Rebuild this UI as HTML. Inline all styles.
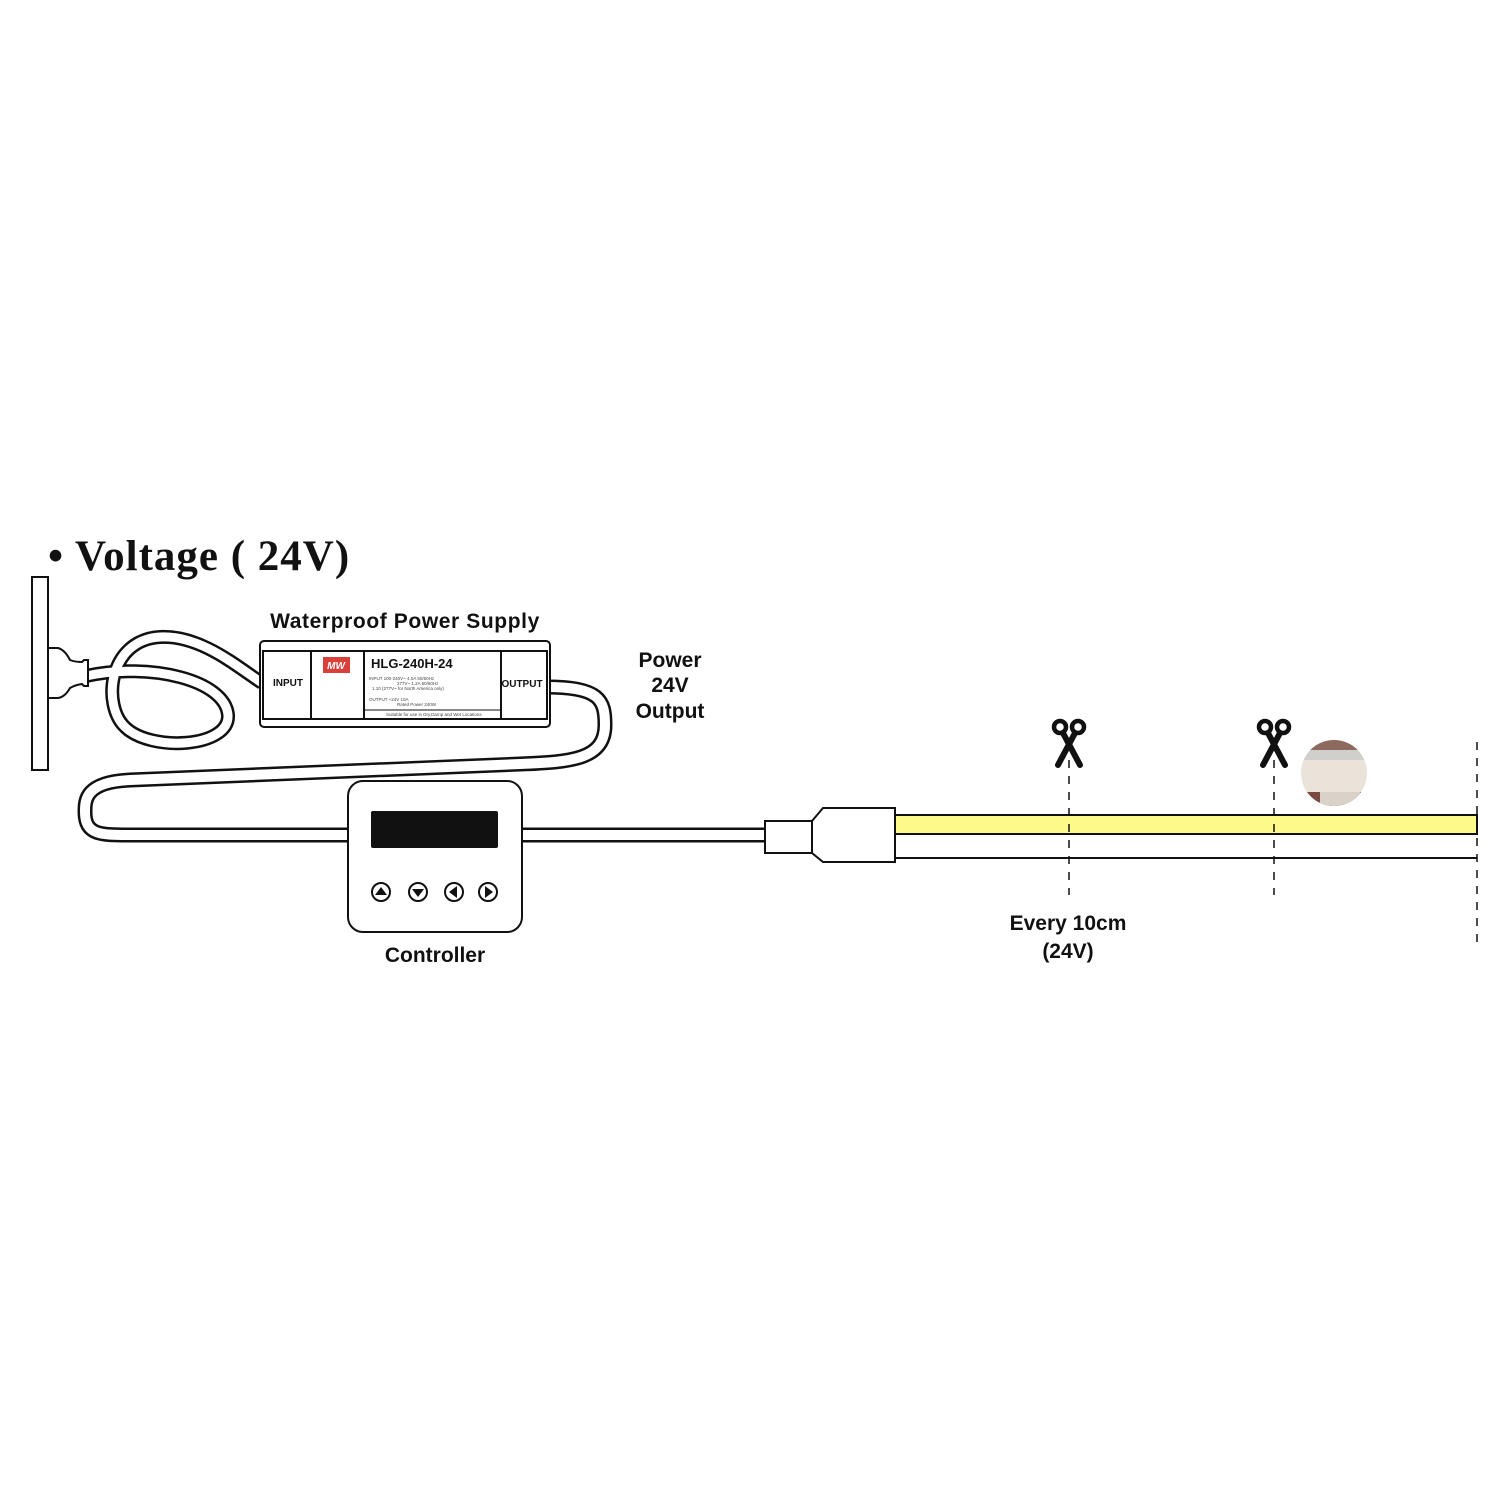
<!DOCTYPE html>
<html><head><meta charset="utf-8"><style>
html,body{margin:0;padding:0;background:#fff;}
svg{display:block;}
.t{font-family:"Liberation Sans",sans-serif;font-weight:bold;fill:#111;}
</style></head><body>
<svg width="1500" height="1500" viewBox="0 0 1500 1500" xmlns="http://www.w3.org/2000/svg">
<rect width="1500" height="1500" fill="#fff"/>
<text x="48" y="570" font-family="Liberation Serif,serif" font-weight="bold" font-size="43" letter-spacing="1" fill="#111">• Voltage ( 24V)</text>
<rect x="32" y="577" width="16" height="193" fill="#fff" stroke="#111" stroke-width="2"/>
<g fill="none" stroke-linecap="butt">
<path d="M86,676 C150,662 225,680 228,715 C230,748 150,752 125,727 C102,705 108,640 160,637 C200,635 235,665 262,683" stroke="#111" stroke-width="14"/>
<path d="M86,676 C150,662 225,680 228,715 C230,748 150,752 125,727 C102,705 108,640 160,637 C200,635 235,665 262,683" stroke="#fff" stroke-width="9"/>
<path d="M546,687 C600,687 605,700 605,725 C605,760 570,762 520,764 L130,780 C85,782 85,800 85,812 C85,835 100,835 130,835 L767,835" stroke="#111" stroke-width="15"/>
<path d="M546,687 C600,687 605,700 605,725 C605,760 570,762 520,764 L130,780 C85,782 85,800 85,812 C85,835 100,835 130,835 L767,835" stroke="#fff" stroke-width="10"/>
</g>
<path d="M48,648 L58,648 Q65,650 70,660 Q75,662 82,662 L84,660 L88,660 L88,686 L84,686 L82,684 Q75,685 70,688 Q65,697 58,698 L48,698 Z" fill="#fff" stroke="#111" stroke-width="2"/>
<rect x="260" y="641" width="290" height="86" rx="4" fill="#fff" stroke="#111" stroke-width="2"/>
<rect x="263" y="651" width="284" height="68" fill="#fff" stroke="#111" stroke-width="2"/>
<line x1="311" y1="651" x2="311" y2="719" stroke="#111" stroke-width="2"/>
<line x1="364" y1="651" x2="364" y2="719" stroke="#111" stroke-width="2"/>
<line x1="501" y1="651" x2="501" y2="719" stroke="#111" stroke-width="2"/>
<line x1="364" y1="710" x2="501" y2="710" stroke="#111" stroke-width="1"/>
<rect x="323" y="657" width="27" height="16" fill="#d9403a"/>
<text x="336" y="669" font-family="Liberation Sans,sans-serif" font-style="italic" font-weight="bold" font-size="10" fill="#fff" text-anchor="middle">MW</text>
<text class="t" x="288" y="686" font-size="10" text-anchor="middle">INPUT</text>
<text class="t" x="522" y="687" font-size="10" text-anchor="middle">OUTPUT</text>
<text class="t" x="371" y="668" font-size="13">HLG-240H-24</text>
<g font-family="Liberation Sans,sans-serif" font-size="4.5" fill="#444">
<text x="369" y="680">INPUT   100-240V~  4.0A  50/60Hz</text>
<text x="397" y="685">277V~   1.2A  50/60Hz</text>
<text x="372" y="690">1.10   (277V~ for North America only)</text>
<text x="369" y="701">OUTPUT   +24V   10A</text>
<text x="397" y="706">Rated Power 240W</text>
<text x="386" y="716">Suitable for use in Dry,Damp and Wet Locations</text>
</g>
<text class="t" x="405" y="628" font-size="21" letter-spacing="0.6" text-anchor="middle">Waterproof Power Supply</text>
<text class="t" x="670" y="667" font-size="21" text-anchor="middle">Power</text>
<text class="t" x="670" y="692" font-size="21" text-anchor="middle">24V</text>
<text class="t" x="670" y="718" font-size="21" text-anchor="middle">Output</text>
<rect x="348" y="781" width="174" height="151" rx="15" fill="#fff" stroke="#111" stroke-width="2"/>
<rect x="371" y="811" width="127" height="37" rx="2" fill="#111"/>
<g fill="#fff" stroke="#111" stroke-width="2">
<circle cx="381" cy="892" r="9"/><circle cx="418" cy="892" r="9"/><circle cx="454" cy="892" r="9"/><circle cx="488" cy="892" r="9"/>
</g>
<g fill="#111">
<path d="M375,895 L387,895 L381,887 Z"/><path d="M412,889 L424,889 L418,897 Z"/>
<path d="M457,886 L457,898 L449,892 Z"/><path d="M485,886 L485,898 L493,892 Z"/>
</g>
<text class="t" x="435" y="962" font-size="21" text-anchor="middle">Controller</text>
<rect x="765" y="821" width="47" height="32" fill="#fff" stroke="#111" stroke-width="2"/>
<path d="M895,808 L823,808 L812,821 L812,853 L823,862 L895,862 Z" fill="#fff" stroke="#111" stroke-width="2"/>
<rect x="895" y="815" width="582" height="19" fill="#fdfa8a" stroke="#111" stroke-width="2"/>
<line x1="895" y1="858" x2="1477" y2="858" stroke="#111" stroke-width="2"/>
<g stroke="#111" stroke-width="1.5" stroke-dasharray="8,8">
<line x1="1069" y1="760" x2="1069" y2="895"/>
<line x1="1274" y1="760" x2="1274" y2="895"/>
<line x1="1477" y1="742" x2="1477" y2="942"/>
</g>
<g fill="none" stroke="#111">
<g transform="translate(1069,0)">
<circle cx="-9" cy="727" r="6" stroke-width="4.5"/><circle cx="9" cy="727" r="6" stroke-width="4.5"/>
<path d="M-6,733 L11,765 M6,733 L-11,765" stroke-width="6" stroke-linecap="round"/>
</g>
<g transform="translate(1274,0)">
<circle cx="-9" cy="727" r="6" stroke-width="4.5"/><circle cx="9" cy="727" r="6" stroke-width="4.5"/>
<path d="M-6,733 L11,765 M6,733 L-11,765" stroke-width="6" stroke-linecap="round"/>
</g>
</g>
<defs><clipPath id="c"><circle cx="1334" cy="773" r="33"/></clipPath></defs>
<g clip-path="url(#c)">
<rect x="1300" y="740" width="70" height="70" fill="#e9e3d9"/>
<rect x="1300" y="740" width="70" height="10" fill="#8e6a5e"/>
<rect x="1300" y="750" width="70" height="10" fill="#cfcfcc"/>
<rect x="1300" y="792" width="70" height="16" fill="#7a4a40"/>
<rect x="1320" y="792" width="40" height="16" fill="#d8d2c8"/>
</g>
<text class="t" x="1068" y="930" font-size="21" text-anchor="middle">Every 10cm</text>
<text class="t" x="1068" y="958" font-size="21" text-anchor="middle">(24V)</text>
</svg>
</body></html>
